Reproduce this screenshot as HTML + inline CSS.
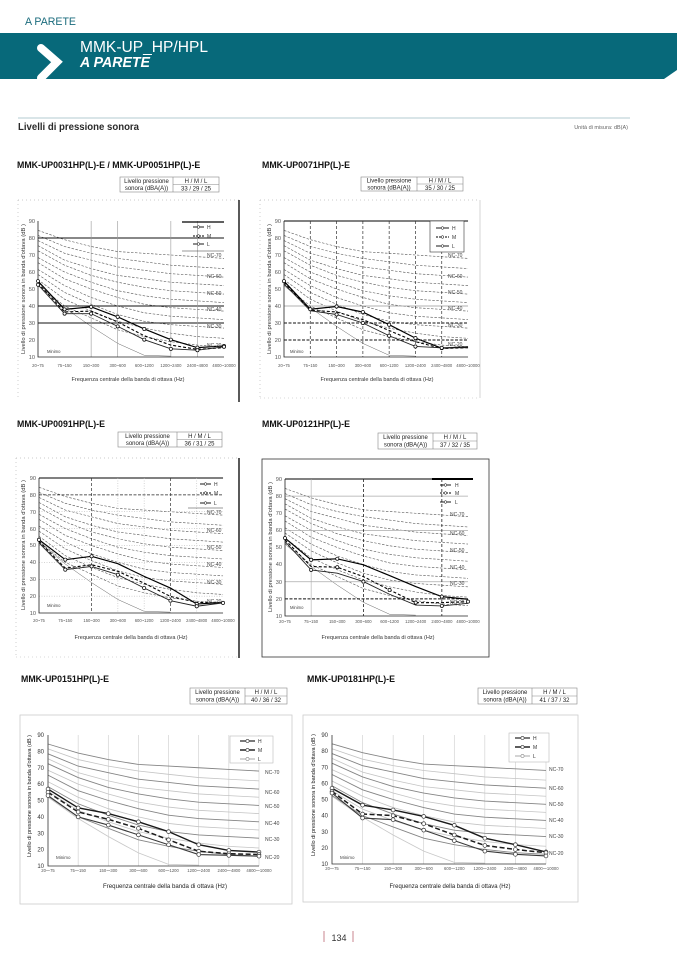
<!DOCTYPE html>
<html><head><meta charset="utf-8">
<style>
html,body{margin:0;padding:0;background:#fff}
svg{display:block}
text{font-family:"Liberation Sans",Arial,"Noto Sans CJK JP",sans-serif}
.p polyline,.p line,.p ellipse{vector-effect:non-scaling-stroke;fill:none}
.p ellipse{fill:#fff}
.xl{font-size:4.2px;fill:#555;text-anchor:middle}
.yl{font-size:5.6px;fill:#555;text-anchor:end}
.nc{font-size:5px;fill:#444}
.tb{font-size:6px;fill:#222;text-anchor:middle}
.ti{font-size:8.8px;font-weight:bold;fill:#111}
.lg{font-size:5px;fill:#333}
</style></head><body>
<svg width="677" height="958" viewBox="0 0 677 958" xmlns="http://www.w3.org/2000/svg">
<defs>
<g id="ncD">
<polyline vector-effect="non-scaling-stroke" fill="none" points="0,55 100,110 200,150 300,180 400,190 500,200 600,210 700,220"/>
<polyline vector-effect="non-scaling-stroke" fill="none" points="0,115 100,190 200,230 300,270 400,290 500,310 600,320 700,330"/>
<polyline vector-effect="non-scaling-stroke" fill="none" points="0,175 100,260 200,320 300,360 400,390 500,410 600,420 700,430"/>
<polyline vector-effect="non-scaling-stroke" fill="none" points="0,245 100,340 200,400 300,450 400,490 500,510 600,520 700,530"/>
<polyline vector-effect="non-scaling-stroke" fill="none" points="0,315 100,420 200,490 300,550 400,590 500,610 600,620 700,630"/>
<polyline vector-effect="non-scaling-stroke" fill="none" points="0,375 100,500 200,570 300,640 400,680 500,710 600,730 700,740"/>
</g>
<g id="ncL">
<polyline vector-effect="non-scaling-stroke" fill="none" points="0,85 100,150 200,190 300,220 400,240 500,260 600,270 700,280"/>
<polyline vector-effect="non-scaling-stroke" fill="none" points="0,145 100,230 200,280 300,320 400,340 500,360 600,370 700,380"/>
<polyline vector-effect="non-scaling-stroke" fill="none" points="0,215 100,300 200,360 300,410 400,440 500,460 600,470 700,480"/>
<polyline vector-effect="non-scaling-stroke" fill="none" points="0,285 100,380 200,450 300,500 400,540 500,560 600,570 700,580"/>
<polyline vector-effect="non-scaling-stroke" fill="none" points="0,345 100,460 200,530 300,590 400,630 500,660 600,680 700,690"/>
</g>
<polyline id="thr" vector-effect="non-scaling-stroke" fill="none" points="0,380 100,510 200,620 300,720 400,790 500,795"/>
<clipPath id="bandclip"><polygon points="0,33 677,33 677,70 664,79 0,79"/></clipPath>
</defs>

<!-- HEADER -->
<text x="25" y="25" font-size="11" fill="#1a6b7c" textLength="51" lengthAdjust="spacingAndGlyphs">A PARETE</text>
<polygon points="0,33 677,33 677,70 664,79 0,79" fill="#07697a"/>
<g clip-path="url(#bandclip)">
<polyline points="41,48 57,62 41,78" fill="none" stroke="#fff" stroke-width="8" stroke-linecap="round" stroke-linejoin="miter"/>
</g>
<text x="80" y="52" font-size="16" fill="#fff" textLength="128" lengthAdjust="spacingAndGlyphs">MMK-UP_HP/HPL</text>
<text x="80" y="67" font-size="15" font-weight="bold" font-style="italic" fill="#fff" textLength="70" lengthAdjust="spacingAndGlyphs">A PARETE</text>

<line x1="18" y1="118" x2="630" y2="118" stroke="#b3cbd2" stroke-width="1"/>
<text x="18" y="130" font-size="10" font-weight="bold" fill="#2a2a2a" textLength="121" lengthAdjust="spacingAndGlyphs">Livelli di pressione sonora</text>
<text x="628" y="129" font-size="5.5" fill="#666" text-anchor="end">Unità di misura: dB(A)</text>

<!-- ================= CHART 1 ================= -->
<text class="ti" x="17" y="168">MMK-UP0031HP(L)-E / MMK-UP0051HP(L)-E</text>
<rect x="120" y="177" width="99" height="15" fill="#fff" stroke="#888" stroke-width="0.6"/>
<line x1="173" y1="177" x2="173" y2="192" stroke="#888" stroke-width="0.6"/>
<line x1="173" y1="184.5" x2="219" y2="184.5" stroke="#888" stroke-width="0.6"/>
<text class="tb" x="146.5" y="183">Livello pressione</text>
<text class="tb" x="146.5" y="190">sonora (dBA(A))</text>
<text class="tb" x="196" y="183">H / M / L</text>
<text class="tb" x="196" y="190.5">33 / 29 / 25</text>
<line x1="18" y1="200" x2="18" y2="400" stroke="#bbb" stroke-width="0.7" stroke-dasharray="1,3"/>
<line x1="18" y1="200" x2="239" y2="200" stroke="#bbb" stroke-width="0.7" stroke-dasharray="1,3"/>
<line x1="239" y1="200" x2="239" y2="402" stroke="#000" stroke-width="1.3"/>
<g class="p" transform="translate(38,221) scale(0.2657,0.17)">
<use href="#ncD" stroke="#555" stroke-width="0.6" stroke-dasharray="2.5,1.5"/>
<use href="#ncL" stroke="#555" stroke-width="0.6" stroke-dasharray="2.5,1.5"/>
<use href="#thr" stroke="#666" stroke-width="0.5"/>
<line x1="0" y1="100" x2="700" y2="100" stroke="#111" stroke-width="0.9"/>
<line x1="0" y1="500" x2="700" y2="500" stroke="#111" stroke-width="0.9"/>
<line x1="0" y1="600" x2="700" y2="600" stroke="#111" stroke-width="0.9"/>
<line x1="200" y1="0" x2="200" y2="800" stroke="#999" stroke-width="0.6"/>
<line x1="300" y1="0" x2="300" y2="800" stroke="#999" stroke-width="0.6"/>
<line x1="500" y1="0" x2="500" y2="800" stroke="#999" stroke-width="0.6"/>
<line x1="600" y1="0" x2="600" y2="800" stroke="#999" stroke-width="0.6"/>
<polyline points="0,0 0,800 700,800" stroke="#222" stroke-width="0.8"/>
<polyline points="0,354 100,520 200,505 300,564 400,635 500,698 600,745 700,735" stroke="#000" stroke-width="1.2"/>
<polyline points="0,365 100,535 200,530 300,594 400,675 500,730 600,755 700,745" stroke="#000" stroke-width="1.1" stroke-dasharray="3,2"/>
<polyline points="0,375 100,545 200,545 300,620 400,698 500,752 600,760 700,740" stroke="#222" stroke-width="0.9"/>
<g stroke="#000" stroke-width="0.7">
<ellipse cx="0" cy="354" rx="6" ry="9.4"/><ellipse cx="100" cy="520" rx="6" ry="9.4"/><ellipse cx="200" cy="505" rx="6" ry="9.4"/><ellipse cx="300" cy="564" rx="6" ry="9.4"/><ellipse cx="400" cy="635" rx="6" ry="9.4"/><ellipse cx="500" cy="698" rx="6" ry="9.4"/><ellipse cx="600" cy="745" rx="6" ry="9.4"/><ellipse cx="700" cy="735" rx="6" ry="9.4"/>
<ellipse cx="0" cy="375" rx="6" ry="9.4"/><ellipse cx="100" cy="545" rx="6" ry="9.4"/><ellipse cx="200" cy="545" rx="6" ry="9.4"/><ellipse cx="300" cy="620" rx="6" ry="9.4"/><ellipse cx="400" cy="698" rx="6" ry="9.4"/><ellipse cx="500" cy="752" rx="6" ry="9.4"/><ellipse cx="600" cy="760" rx="6" ry="9.4"/><ellipse cx="700" cy="740" rx="6" ry="9.4"/>
</g>
</g>
<line x1="182" y1="222" x2="224" y2="222" stroke="#000" stroke-width="1.2"/>
<line x1="182" y1="251" x2="224" y2="251" stroke="#333" stroke-width="0.6"/>
<line x1="193" y1="227" x2="204" y2="227" stroke="#000" stroke-width="0.9"/><circle cx="198.5" cy="227" r="1.3" fill="#fff" stroke="#000" stroke-width="0.5"/><text class="lg" x="207" y="229">H</text>
<line x1="193" y1="236" x2="204" y2="236" stroke="#000" stroke-width="0.9" stroke-dasharray="2,1"/><circle cx="198.5" cy="236" r="1.3" fill="#fff" stroke="#000" stroke-width="0.5"/><text class="lg" x="207" y="238">M</text>
<line x1="193" y1="244" x2="204" y2="244" stroke="#000" stroke-width="0.9"/><circle cx="198.5" cy="244" r="1.3" fill="#fff" stroke="#000" stroke-width="0.5"/><text class="lg" x="207" y="246">L</text>
<text class="nc" x="207" y="257">NC-70</text><text class="nc" x="207" y="278">NC-60</text><text class="nc" x="207" y="295">NC-50</text><text class="nc" x="207" y="311">NC-40</text><text class="nc" x="207" y="328">NC-30</text><text class="nc" x="207" y="347">NC-20</text>
<text class="yl" x="35" y="223">90</text><text class="yl" x="35" y="240">80</text><text class="yl" x="35" y="257">70</text><text class="yl" x="35" y="274">60</text><text class="yl" x="35" y="291">50</text><text class="yl" x="35" y="308">40</text><text class="yl" x="35" y="325">30</text><text class="yl" x="35" y="342">20</text><text class="yl" x="35" y="359">10</text>
<text class="xl" x="38" y="367">20~75</text><text class="xl" x="64.6" y="367">75~150</text><text class="xl" x="91.1" y="367">150~300</text><text class="xl" x="117.7" y="367">300~600</text><text class="xl" x="144.3" y="367">600~1200</text><text class="xl" x="170.9" y="367">1200~2400</text><text class="xl" x="197.4" y="367">2400~4800</text><text class="xl" x="224" y="367">4800~10000</text>
<text x="128" y="381" font-size="5.8" fill="#333" text-anchor="middle" textLength="113" lengthAdjust="spacingAndGlyphs">Frequenza centrale della banda di ottava (Hz)</text>
<text transform="translate(25,289) rotate(-90)" font-size="5.6" fill="#333" text-anchor="middle" textLength="130" lengthAdjust="spacingAndGlyphs">Livello di pressione sonora in banda d'ottava (dB )</text>
<text x="47" y="353" font-size="4.2" fill="#444">Minimo</text>

<!-- ================= CHART 2 ================= -->
<text class="ti" x="262" y="168">MMK-UP0071HP(L)-E</text>
<rect x="361" y="177" width="102" height="14" fill="#fff" stroke="#888" stroke-width="0.6"/>
<line x1="417" y1="177" x2="417" y2="191" stroke="#888" stroke-width="0.6"/>
<line x1="417" y1="184" x2="463" y2="184" stroke="#888" stroke-width="0.6"/>
<text class="tb" x="389" y="182.5">Livello pressione</text>
<text class="tb" x="389" y="189.5">sonora (dBA(A))</text>
<text class="tb" x="440" y="182.5">H / M / L</text>
<text class="tb" x="440" y="189.8">35 / 30 / 25</text>
<line x1="260" y1="200" x2="260" y2="398" stroke="#bbb" stroke-width="0.7" stroke-dasharray="1,3"/>
<line x1="260" y1="200" x2="480" y2="200" stroke="#bbb" stroke-width="0.7" stroke-dasharray="1,3"/>
<line x1="480" y1="200" x2="480" y2="398" stroke="#ccc" stroke-width="0.8"/>
<line x1="260" y1="398" x2="480" y2="398" stroke="#ccc" stroke-width="0.7" stroke-dasharray="1,3"/>
<g class="p" transform="translate(284,221) scale(0.2629,0.17)">
<use href="#ncD" stroke="#555" stroke-width="0.6" stroke-dasharray="2.5,1.5"/>
<use href="#ncL" stroke="#555" stroke-width="0.6" stroke-dasharray="2.5,1.5"/>
<use href="#thr" stroke="#666" stroke-width="0.5"/>
<line x1="0" y1="0" x2="700" y2="0" stroke="#000" stroke-width="1.1"/>
<line x1="0" y1="500" x2="700" y2="500" stroke="#999" stroke-width="0.7"/>
<line x1="0" y1="600" x2="700" y2="600" stroke="#111" stroke-width="0.9" stroke-dasharray="3,1.5"/>
<line x1="0" y1="700" x2="700" y2="700" stroke="#111" stroke-width="0.9" stroke-dasharray="3,1.5"/>
<line x1="100" y1="0" x2="100" y2="800" stroke="#333" stroke-width="0.7" stroke-dasharray="3,2"/>
<line x1="200" y1="0" x2="200" y2="800" stroke="#333" stroke-width="0.7" stroke-dasharray="3,2"/>
<line x1="300" y1="0" x2="300" y2="800" stroke="#333" stroke-width="0.7" stroke-dasharray="3,2"/>
<line x1="400" y1="0" x2="400" y2="800" stroke="#333" stroke-width="0.7" stroke-dasharray="3,2"/>
<line x1="500" y1="0" x2="500" y2="800" stroke="#333" stroke-width="0.7" stroke-dasharray="3,2"/>
<line x1="600" y1="0" x2="600" y2="800" stroke="#333" stroke-width="0.7" stroke-dasharray="3,2"/>
<polyline points="0,0 0,800 700,800" stroke="#222" stroke-width="0.8"/>
<polyline points="0,354 100,519 200,503 300,536 400,610 500,689 600,748 700,740" stroke="#000" stroke-width="1.2"/>
<polyline points="0,360 100,525 200,535 300,580 400,644 500,710 600,750 700,745" stroke="#000" stroke-width="1.1" stroke-dasharray="3,2"/>
<polyline points="0,370 100,528 200,550 300,600 400,675 500,738 600,746 700,745" stroke="#222" stroke-width="0.9"/>
<g stroke="#000" stroke-width="0.7">
<ellipse cx="0" cy="354" rx="6.1" ry="9.4"/><ellipse cx="100" cy="519" rx="6.1" ry="9.4"/><ellipse cx="200" cy="503" rx="6.1" ry="9.4"/><ellipse cx="300" cy="536" rx="6.1" ry="9.4"/><ellipse cx="400" cy="610" rx="6.1" ry="9.4"/><ellipse cx="500" cy="689" rx="6.1" ry="9.4"/><ellipse cx="600" cy="748" rx="6.1" ry="9.4"/>
<ellipse cx="200" cy="550" rx="6.1" ry="9.4"/><ellipse cx="300" cy="600" rx="6.1" ry="9.4"/><ellipse cx="400" cy="675" rx="6.1" ry="9.4"/><ellipse cx="500" cy="738" rx="6.1" ry="9.4"/><ellipse cx="600" cy="746" rx="6.1" ry="9.4"/>
</g>
</g>
<rect x="430" y="221" width="34" height="31" fill="#fff" stroke="#333" stroke-width="0.6"/>
<line x1="436" y1="228" x2="449" y2="228" stroke="#000" stroke-width="0.9"/><circle cx="442.5" cy="228" r="1.3" fill="#fff" stroke="#000" stroke-width="0.5"/><text class="lg" x="452" y="230">H</text>
<line x1="436" y1="237" x2="449" y2="237" stroke="#000" stroke-width="0.9" stroke-dasharray="2,1"/><circle cx="442.5" cy="237" r="1.3" fill="#fff" stroke="#000" stroke-width="0.5"/><text class="lg" x="452" y="239">M</text>
<line x1="436" y1="246" x2="449" y2="246" stroke="#000" stroke-width="0.9"/><circle cx="442.5" cy="246" r="1.3" fill="#fff" stroke="#000" stroke-width="0.5"/><text class="lg" x="452" y="248">L</text>
<text class="nc" x="448" y="257">NC-70</text><text class="nc" x="448" y="278">NC-60</text><text class="nc" x="448" y="294">NC-50</text><text class="nc" x="448" y="310">NC-40</text><text class="nc" x="448" y="327">NC-30</text><text class="nc" x="448" y="346">NC-20</text>
<text class="yl" x="281" y="223">90</text><text class="yl" x="281" y="240">80</text><text class="yl" x="281" y="257">70</text><text class="yl" x="281" y="274">60</text><text class="yl" x="281" y="291">50</text><text class="yl" x="281" y="308">40</text><text class="yl" x="281" y="325">30</text><text class="yl" x="281" y="342">20</text><text class="yl" x="281" y="359">10</text>
<text class="xl" x="284" y="367">20~75</text><text class="xl" x="310.3" y="367">75~150</text><text class="xl" x="336.6" y="367">150~300</text><text class="xl" x="362.9" y="367">300~600</text><text class="xl" x="389.1" y="367">600~1200</text><text class="xl" x="415.4" y="367">1200~2400</text><text class="xl" x="441.7" y="367">2400~4800</text><text class="xl" x="468" y="367">4800~10000</text>
<text x="377" y="381" font-size="5.8" fill="#333" text-anchor="middle" textLength="113" lengthAdjust="spacingAndGlyphs">Frequenza centrale della banda di ottava (Hz)</text>
<text transform="translate(271,289) rotate(-90)" font-size="5.6" fill="#333" text-anchor="middle" textLength="130" lengthAdjust="spacingAndGlyphs">Livello di pressione sonora in banda d'ottava (dB )</text>
<text x="290" y="353" font-size="4.2" fill="#444">Minimo</text>

<!-- ================= CHART 3 ================= -->
<text class="ti" x="17" y="427">MMK-UP0091HP(L)-E</text>
<rect x="118" y="432" width="104" height="15" fill="#fff" stroke="#888" stroke-width="0.6"/>
<line x1="177" y1="432" x2="177" y2="447" stroke="#888" stroke-width="0.6"/>
<line x1="177" y1="439.5" x2="222" y2="439.5" stroke="#888" stroke-width="0.6"/>
<text class="tb" x="147.5" y="438">Livello pressione</text>
<text class="tb" x="147.5" y="445">sonora (dBA(A))</text>
<text class="tb" x="199.5" y="438">H / M / L</text>
<text class="tb" x="199.5" y="445.5">36 / 31 / 25</text>
<line x1="16" y1="458" x2="16" y2="657" stroke="#bbb" stroke-width="0.7" stroke-dasharray="1,3"/>
<line x1="16" y1="458" x2="239" y2="458" stroke="#bbb" stroke-width="0.7" stroke-dasharray="1,3"/>
<line x1="16" y1="657" x2="239" y2="657" stroke="#ccc" stroke-width="0.7" stroke-dasharray="1,3"/>
<line x1="239" y1="458" x2="239" y2="658" stroke="#000" stroke-width="1.3"/>
<g class="p" transform="translate(39,478) scale(0.2629,0.16875)">
<use href="#ncD" stroke="#555" stroke-width="0.6" stroke-dasharray="2.5,1.5"/>
<use href="#ncL" stroke="#555" stroke-width="0.6" stroke-dasharray="2.5,1.5"/>
<use href="#thr" stroke="#666" stroke-width="0.5"/>
<line x1="0" y1="0" x2="700" y2="0" stroke="#000" stroke-width="1.1"/>
<line x1="0" y1="100" x2="700" y2="100" stroke="#222" stroke-width="0.8" stroke-dasharray="3,1.5"/>
<line x1="0" y1="200" x2="700" y2="200" stroke="#aaa" stroke-width="0.6" stroke-dasharray="1,1.5"/>
<line x1="0" y1="300" x2="700" y2="300" stroke="#aaa" stroke-width="0.6" stroke-dasharray="1,1.5"/>
<line x1="0" y1="400" x2="700" y2="400" stroke="#aaa" stroke-width="0.6" stroke-dasharray="1,1.5"/>
<line x1="0" y1="500" x2="700" y2="500" stroke="#aaa" stroke-width="0.6" stroke-dasharray="1,1.5"/>
<line x1="0" y1="600" x2="700" y2="600" stroke="#aaa" stroke-width="0.6" stroke-dasharray="1,1.5"/>
<line x1="0" y1="700" x2="700" y2="700" stroke="#aaa" stroke-width="0.6" stroke-dasharray="1,1.5"/>
<line x1="200" y1="0" x2="200" y2="800" stroke="#333" stroke-width="0.7" stroke-dasharray="3,2"/>
<line x1="500" y1="0" x2="500" y2="800" stroke="#333" stroke-width="0.7" stroke-dasharray="3,2"/>
<line x1="300" y1="0" x2="300" y2="800" stroke="#bbb" stroke-width="0.6" stroke-dasharray="1,1.5"/>
<line x1="400" y1="0" x2="400" y2="800" stroke="#bbb" stroke-width="0.6" stroke-dasharray="1,1.5"/>
<line x1="600" y1="0" x2="600" y2="800" stroke="#bbb" stroke-width="0.6" stroke-dasharray="1,1.5"/>
<polyline points="0,0 0,800 700,800" stroke="#222" stroke-width="0.8"/>
<polyline points="0,366 100,484 200,464 300,508 400,583 500,652 600,747 700,737" stroke="#000" stroke-width="1.2"/>
<polyline points="0,375 100,534 200,514 300,553 400,623 500,702 600,737 700,741" stroke="#000" stroke-width="1.1" stroke-dasharray="3,2"/>
<polyline points="0,385 100,543 200,524 300,573 400,652 500,727 600,760 700,740" stroke="#222" stroke-width="0.9"/>
<g stroke="#000" stroke-width="0.7">
<ellipse cx="0" cy="366" rx="6.1" ry="9.5"/><ellipse cx="100" cy="484" rx="6.1" ry="9.5"/><ellipse cx="200" cy="464" rx="6.1" ry="9.5"/><ellipse cx="600" cy="747" rx="6.1" ry="9.5"/>
<ellipse cx="100" cy="543" rx="6.1" ry="9.5"/><ellipse cx="200" cy="524" rx="6.1" ry="9.5"/><ellipse cx="300" cy="573" rx="6.1" ry="9.5"/><ellipse cx="400" cy="652" rx="6.1" ry="9.5"/><ellipse cx="500" cy="727" rx="6.1" ry="9.5"/><ellipse cx="600" cy="760" rx="6.1" ry="9.5"/><ellipse cx="700" cy="740" rx="6.1" ry="9.5"/>
</g>
</g>
<line x1="188" y1="508" x2="223" y2="508" stroke="#333" stroke-width="0.6"/>
<line x1="200" y1="484" x2="211" y2="484" stroke="#000" stroke-width="0.9"/><circle cx="205.5" cy="484" r="1.3" fill="#fff" stroke="#000" stroke-width="0.5"/><text class="lg" x="214" y="486">H</text>
<line x1="200" y1="493" x2="211" y2="493" stroke="#000" stroke-width="0.9" stroke-dasharray="2,1"/><circle cx="205.5" cy="493" r="1.3" fill="#fff" stroke="#000" stroke-width="0.5"/><text class="lg" x="214" y="495">M</text>
<line x1="200" y1="503" x2="211" y2="503" stroke="#000" stroke-width="0.9"/><circle cx="205.5" cy="503" r="1.3" fill="#fff" stroke="#000" stroke-width="0.5"/><text class="lg" x="214" y="505">L</text>
<text class="nc" x="207" y="514">NC-70</text><text class="nc" x="207" y="532">NC-60</text><text class="nc" x="207" y="549">NC-50</text><text class="nc" x="207" y="566">NC-40</text><text class="nc" x="207" y="584">NC-30</text><text class="nc" x="207" y="603">NC-20</text>
<text class="yl" x="36" y="480">90</text><text class="yl" x="36" y="497">80</text><text class="yl" x="36" y="514">70</text><text class="yl" x="36" y="531">60</text><text class="yl" x="36" y="547">50</text><text class="yl" x="36" y="564">40</text><text class="yl" x="36" y="581">30</text><text class="yl" x="36" y="598">20</text><text class="yl" x="36" y="615">10</text>
<text class="xl" x="39" y="622">20~75</text><text class="xl" x="65.3" y="622">75~150</text><text class="xl" x="91.6" y="622">150~300</text><text class="xl" x="117.9" y="622">300~600</text><text class="xl" x="144.1" y="622">600~1200</text><text class="xl" x="170.4" y="622">1200~2400</text><text class="xl" x="196.7" y="622">2400~4800</text><text class="xl" x="223" y="622">4800~10000</text>
<text x="131" y="639" font-size="5.8" fill="#333" text-anchor="middle" textLength="113" lengthAdjust="spacingAndGlyphs">Frequenza centrale della banda di ottava (Hz)</text>
<text transform="translate(25,545) rotate(-90)" font-size="5.6" fill="#333" text-anchor="middle" textLength="130" lengthAdjust="spacingAndGlyphs">Livello di pressione sonora in banda d'ottava (dB )</text>
<text x="47" y="607" font-size="4.2" fill="#444">Minimo</text>

<!-- ================= CHART 4 ================= -->
<text class="ti" x="262" y="427">MMK-UP0121HP(L)-E</text>
<rect x="378" y="433" width="99" height="16" fill="#fff" stroke="#888" stroke-width="0.6"/>
<line x1="433" y1="433" x2="433" y2="449" stroke="#888" stroke-width="0.6"/>
<line x1="433" y1="441" x2="477" y2="441" stroke="#888" stroke-width="0.6"/>
<text class="tb" x="405.5" y="439">Livello pressione</text>
<text class="tb" x="405.5" y="446.5">sonora (dBA(A))</text>
<text class="tb" x="455" y="439">H / M / L</text>
<text class="tb" x="455" y="447">37 / 32 / 35</text>
<rect x="262" y="459" width="227" height="198" fill="none" stroke="#333" stroke-width="0.8"/>
<g class="p" transform="translate(285,479) scale(0.2614,0.17125)">
<use href="#ncD" stroke="#555" stroke-width="0.6" stroke-dasharray="2.5,1.5"/>
<use href="#ncL" stroke="#555" stroke-width="0.6" stroke-dasharray="2.5,1.5"/>
<use href="#thr" stroke="#666" stroke-width="0.5"/>
<line x1="0" y1="0" x2="700" y2="0" stroke="#000" stroke-width="1.1"/>
<line x1="0" y1="100" x2="700" y2="100" stroke="#aaa" stroke-width="0.7"/>
<line x1="0" y1="300" x2="700" y2="300" stroke="#aaa" stroke-width="0.7"/>
<line x1="0" y1="600" x2="700" y2="600" stroke="#aaa" stroke-width="0.7"/>
<line x1="0" y1="700" x2="700" y2="700" stroke="#111" stroke-width="0.9" stroke-dasharray="3,1.5"/>
<line x1="100" y1="0" x2="100" y2="800" stroke="#aaa" stroke-width="0.6"/>
<line x1="300" y1="0" x2="300" y2="800" stroke="#222" stroke-width="0.8" stroke-dasharray="3,2"/>
<line x1="600" y1="0" x2="600" y2="800" stroke="#222" stroke-width="0.8" stroke-dasharray="3,2"/>
<polyline points="0,0 0,800 700,800" stroke="#222" stroke-width="0.8"/>
<polyline points="0,345 100,472 200,466 300,501 400,564 500,628 600,687 700,702" stroke="#000" stroke-width="1.2"/>
<polyline points="0,355 100,511 200,515 300,570 400,648 500,722 600,722 700,716" stroke="#000" stroke-width="1.1" stroke-dasharray="3,2"/>
<polyline points="0,365 100,531 200,550 300,599 400,673 500,736 600,741 700,726" stroke="#222" stroke-width="0.9"/>
<g stroke="#000" stroke-width="0.7">
<ellipse cx="0" cy="345" rx="6.1" ry="9.3"/><ellipse cx="100" cy="472" rx="6.1" ry="9.3"/><ellipse cx="200" cy="466" rx="6.1" ry="9.3"/><ellipse cx="600" cy="687" rx="6.1" ry="9.3"/>
<ellipse cx="100" cy="531" rx="6.1" ry="9.3"/><ellipse cx="200" cy="515" rx="6.1" ry="9.3"/><ellipse cx="300" cy="599" rx="6.1" ry="9.3"/><ellipse cx="400" cy="648" rx="6.1" ry="9.3"/><ellipse cx="500" cy="722" rx="6.1" ry="9.3"/><ellipse cx="600" cy="741" rx="6.1" ry="9.3"/><ellipse cx="700" cy="716" rx="6.1" ry="9.3"/>
</g>
</g>
<line x1="432" y1="479" x2="473" y2="479" stroke="#000" stroke-width="2"/>
<line x1="440" y1="485" x2="451" y2="485" stroke="#000" stroke-width="0.9"/><circle cx="445.5" cy="485" r="1.3" fill="#fff" stroke="#000" stroke-width="0.5"/><text class="lg" x="455" y="487">H</text>
<line x1="440" y1="493" x2="451" y2="493" stroke="#000" stroke-width="0.9" stroke-dasharray="2,1"/><circle cx="445.5" cy="493" r="1.3" fill="#fff" stroke="#000" stroke-width="0.5"/><text class="lg" x="455" y="495">M</text>
<line x1="440" y1="502" x2="451" y2="502" stroke="#000" stroke-width="0.9"/><circle cx="445.5" cy="502" r="1.3" fill="#fff" stroke="#000" stroke-width="0.5"/><text class="lg" x="455" y="504">L</text>
<text class="nc" x="450" y="516">NC-70</text><text class="nc" x="450" y="535">NC-60</text><text class="nc" x="450" y="552">NC-50</text><text class="nc" x="450" y="569">NC-40</text><text class="nc" x="450" y="585">NC-30</text><text class="nc" x="450" y="604">NC-20</text>
<text class="yl" x="282" y="481">90</text><text class="yl" x="282" y="498">80</text><text class="yl" x="282" y="515">70</text><text class="yl" x="282" y="532">60</text><text class="yl" x="282" y="549">50</text><text class="yl" x="282" y="566">40</text><text class="yl" x="282" y="584">30</text><text class="yl" x="282" y="601">20</text><text class="yl" x="282" y="618">10</text>
<text class="xl" x="285" y="623">20~75</text><text class="xl" x="311.1" y="623">75~150</text><text class="xl" x="337.3" y="623">150~300</text><text class="xl" x="363.4" y="623">300~600</text><text class="xl" x="389.6" y="623">600~1200</text><text class="xl" x="415.7" y="623">1200~2400</text><text class="xl" x="441.9" y="623">2400~4800</text><text class="xl" x="468" y="623">4800~10000</text>
<text x="378" y="639" font-size="5.8" fill="#333" text-anchor="middle" textLength="113" lengthAdjust="spacingAndGlyphs">Frequenza centrale della banda di ottava (Hz)</text>
<text transform="translate(272,547) rotate(-90)" font-size="5.6" fill="#333" text-anchor="middle" textLength="130" lengthAdjust="spacingAndGlyphs">Livello di pressione sonora in banda d'ottava (dB )</text>
<text x="290" y="609" font-size="4.2" fill="#444">Minimo</text>

<!-- ================= CHART 6 ================= -->
<text class="ti" x="21" y="682">MMK-UP0151HP(L)-E</text>
<rect x="190" y="688" width="97" height="16" fill="#fff" stroke="#888" stroke-width="0.6"/>
<line x1="245" y1="688" x2="245" y2="704" stroke="#888" stroke-width="0.6"/>
<line x1="245" y1="696" x2="287" y2="696" stroke="#888" stroke-width="0.6"/>
<text class="tb" x="217.5" y="694">Livello pressione</text>
<text class="tb" x="217.5" y="701.5">sonora (dBA(A))</text>
<text class="tb" x="266" y="694">H / M / L</text>
<text class="tb" x="266" y="702">40 / 36 / 32</text>
<rect x="20" y="715" width="272" height="189" fill="none" stroke="#ccc" stroke-width="0.8"/>
<g class="p" transform="translate(48,735) scale(0.30143,0.16375)">
<line x1="100" y1="0" x2="100" y2="800" stroke="#ccc" stroke-width="0.6"/>
<line x1="200" y1="0" x2="200" y2="800" stroke="#ccc" stroke-width="0.6"/>
<line x1="300" y1="0" x2="300" y2="800" stroke="#ccc" stroke-width="0.6"/>
<line x1="400" y1="0" x2="400" y2="800" stroke="#ccc" stroke-width="0.6"/>
<line x1="500" y1="0" x2="500" y2="800" stroke="#ccc" stroke-width="0.6"/>
<line x1="600" y1="0" x2="600" y2="800" stroke="#ccc" stroke-width="0.6"/>
<line x1="700" y1="0" x2="700" y2="800" stroke="#ccc" stroke-width="0.6"/>
<use href="#ncL" stroke="#c4c4c4" stroke-width="0.8"/>
<use href="#ncD" stroke="#858585" stroke-width="0.9"/>
<use href="#thr" stroke="#c8c8c8" stroke-width="0.8"/>
<polyline points="0,0 0,800 700,800" stroke="#333" stroke-width="0.8"/>
<polyline points="0,370 100,500 200,550 300,610 400,670 500,730 600,735 700,740" stroke="#3a3a3a" stroke-width="1.1"/>
<polyline points="0,350 100,470 200,515 300,570 400,640 500,710 600,725 700,730" stroke="#1a1a1a" stroke-width="1.5" stroke-dasharray="5,2.5"/>
<polyline points="0,330 100,445 200,480 300,530 400,590 500,670 600,705 700,715" stroke="#1a1a1a" stroke-width="1.4"/>
<g stroke="#333" stroke-width="0.7">
<ellipse cx="0" cy="330" rx="6.3" ry="11.6"/><ellipse cx="100" cy="445" rx="6.3" ry="11.6"/><ellipse cx="200" cy="480" rx="6.3" ry="11.6"/><ellipse cx="300" cy="530" rx="6.3" ry="11.6"/><ellipse cx="400" cy="590" rx="6.3" ry="11.6"/><ellipse cx="500" cy="670" rx="6.3" ry="11.6"/><ellipse cx="600" cy="705" rx="6.3" ry="11.6"/><ellipse cx="700" cy="715" rx="6.3" ry="11.6"/>
<ellipse cx="0" cy="350" rx="6.3" ry="11.6"/><ellipse cx="100" cy="470" rx="6.3" ry="11.6"/><ellipse cx="200" cy="515" rx="6.3" ry="11.6"/><ellipse cx="300" cy="570" rx="6.3" ry="11.6"/><ellipse cx="400" cy="640" rx="6.3" ry="11.6"/><ellipse cx="500" cy="710" rx="6.3" ry="11.6"/><ellipse cx="600" cy="725" rx="6.3" ry="11.6"/><ellipse cx="700" cy="730" rx="6.3" ry="11.6"/>
<ellipse cx="0" cy="370" rx="6.3" ry="11.6"/><ellipse cx="100" cy="500" rx="6.3" ry="11.6"/><ellipse cx="200" cy="550" rx="6.3" ry="11.6"/><ellipse cx="300" cy="610" rx="6.3" ry="11.6"/><ellipse cx="400" cy="670" rx="6.3" ry="11.6"/><ellipse cx="500" cy="730" rx="6.3" ry="11.6"/><ellipse cx="600" cy="735" rx="6.3" ry="11.6"/><ellipse cx="700" cy="740" rx="6.3" ry="11.6"/>
</g>
</g>
<rect x="230" y="736" width="43" height="27" fill="#fff" stroke="#bbb" stroke-width="0.6"/>
<line x1="240" y1="741" x2="255" y2="741" stroke="#222" stroke-width="1.2"/><circle cx="247.5" cy="741" r="1.6" fill="#fff" stroke="#333" stroke-width="0.6"/><text class="lg" x="258" y="743">H</text>
<line x1="240" y1="750" x2="255" y2="750" stroke="#333" stroke-width="1.6"/><circle cx="247.5" cy="750" r="1.6" fill="#fff" stroke="#333" stroke-width="0.6"/><text class="lg" x="258" y="752">M</text>
<line x1="240" y1="759" x2="255" y2="759" stroke="#aaa" stroke-width="1"/><circle cx="247.5" cy="759" r="1.6" fill="#fff" stroke="#888" stroke-width="0.6"/><text class="lg" x="258" y="761">L</text>
<text class="nc" x="265" y="774">NC-70</text><text class="nc" x="265" y="794">NC-60</text><text class="nc" x="265" y="808">NC-50</text><text class="nc" x="265" y="825">NC-40</text><text class="nc" x="265" y="841">NC-30</text><text class="nc" x="265" y="859">NC-20</text>
<g font-size="6" fill="#333" text-anchor="end">
<text x="44" y="737">90</text><text x="44" y="753.5">80</text><text x="44" y="770">70</text><text x="44" y="786">60</text><text x="44" y="802.5">50</text><text x="44" y="819">40</text><text x="44" y="835.5">30</text><text x="44" y="851.5">20</text><text x="44" y="868">10</text>
</g>
<text class="xl" x="48" y="872">20～75</text><text class="xl" x="78.1" y="872">75～150</text><text class="xl" x="108.3" y="872">150～300</text><text class="xl" x="138.4" y="872">300～600</text><text class="xl" x="168.6" y="872">600～1200</text><text class="xl" x="198.7" y="872">1200～2400</text><text class="xl" x="228.9" y="872">2400～4800</text><text class="xl" x="259" y="872">4800～10000</text>
<text x="165" y="888" font-size="6.2" fill="#222" text-anchor="middle" textLength="124" lengthAdjust="spacingAndGlyphs">Frequenza centrale della banda di ottava (Hz)</text>
<text transform="translate(31,796) rotate(-90)" font-size="5.8" fill="#222" text-anchor="middle" textLength="122" lengthAdjust="spacingAndGlyphs">Livello di pressione sonora in banda d'ottava (dB )</text>
<text x="56" y="859" font-size="4.5" fill="#444">Minimo</text>

<!-- ================= CHART 7 ================= -->
<text class="ti" x="307" y="682">MMK-UP0181HP(L)-E</text>
<rect x="478" y="688" width="99" height="16" fill="#fff" stroke="#888" stroke-width="0.6"/>
<line x1="532" y1="688" x2="532" y2="704" stroke="#888" stroke-width="0.6"/>
<line x1="532" y1="696" x2="577" y2="696" stroke="#888" stroke-width="0.6"/>
<text class="tb" x="505" y="694">Livello pressione</text>
<text class="tb" x="505" y="701.5">sonora (dBA(A))</text>
<text class="tb" x="554.5" y="694">H / M / L</text>
<text class="tb" x="554.5" y="702">41 / 37 / 32</text>
<rect x="303" y="715" width="275" height="187" fill="none" stroke="#ccc" stroke-width="0.8"/>
<g class="p" transform="translate(332,735) scale(0.3057,0.16125)">
<line x1="100" y1="0" x2="100" y2="800" stroke="#ccc" stroke-width="0.6"/>
<line x1="200" y1="0" x2="200" y2="800" stroke="#ccc" stroke-width="0.6"/>
<line x1="300" y1="0" x2="300" y2="800" stroke="#ccc" stroke-width="0.6"/>
<line x1="400" y1="0" x2="400" y2="800" stroke="#ccc" stroke-width="0.6"/>
<line x1="500" y1="0" x2="500" y2="800" stroke="#ccc" stroke-width="0.6"/>
<line x1="600" y1="0" x2="600" y2="800" stroke="#ccc" stroke-width="0.6"/>
<line x1="700" y1="0" x2="700" y2="800" stroke="#ccc" stroke-width="0.6"/>
<use href="#ncL" stroke="#c4c4c4" stroke-width="0.8"/>
<use href="#ncD" stroke="#858585" stroke-width="0.9"/>
<use href="#thr" stroke="#c8c8c8" stroke-width="0.8"/>
<polyline points="0,0 0,800 700,800" stroke="#333" stroke-width="0.8"/>
<polyline points="0,360 100,515 200,525 300,590 400,655 500,720 600,740 700,750" stroke="#3a3a3a" stroke-width="1.1"/>
<polyline points="0,350 100,490 200,500 300,550 400,620 500,685 600,710 700,730" stroke="#1a1a1a" stroke-width="1.5" stroke-dasharray="5,2.5"/>
<polyline points="0,330 100,435 200,465 300,505 400,560 500,640 600,680 700,725" stroke="#1a1a1a" stroke-width="1.4"/>
<g stroke="#333" stroke-width="0.7">
<ellipse cx="0" cy="330" rx="6.2" ry="11.8"/><ellipse cx="100" cy="435" rx="6.2" ry="11.8"/><ellipse cx="200" cy="465" rx="6.2" ry="11.8"/><ellipse cx="300" cy="505" rx="6.2" ry="11.8"/><ellipse cx="400" cy="560" rx="6.2" ry="11.8"/><ellipse cx="500" cy="640" rx="6.2" ry="11.8"/><ellipse cx="600" cy="680" rx="6.2" ry="11.8"/><ellipse cx="700" cy="725" rx="6.2" ry="11.8"/>
<ellipse cx="0" cy="350" rx="6.2" ry="11.8"/><ellipse cx="100" cy="490" rx="6.2" ry="11.8"/><ellipse cx="200" cy="500" rx="6.2" ry="11.8"/><ellipse cx="300" cy="550" rx="6.2" ry="11.8"/><ellipse cx="400" cy="620" rx="6.2" ry="11.8"/><ellipse cx="500" cy="685" rx="6.2" ry="11.8"/><ellipse cx="600" cy="710" rx="6.2" ry="11.8"/><ellipse cx="700" cy="730" rx="6.2" ry="11.8"/>
<ellipse cx="0" cy="360" rx="6.2" ry="11.8"/><ellipse cx="100" cy="515" rx="6.2" ry="11.8"/><ellipse cx="200" cy="525" rx="6.2" ry="11.8"/><ellipse cx="300" cy="590" rx="6.2" ry="11.8"/><ellipse cx="400" cy="655" rx="6.2" ry="11.8"/><ellipse cx="500" cy="720" rx="6.2" ry="11.8"/><ellipse cx="600" cy="740" rx="6.2" ry="11.8"/><ellipse cx="700" cy="750" rx="6.2" ry="11.8"/>
</g>
</g>
<rect x="509" y="733" width="40" height="29" fill="#fff" stroke="#bbb" stroke-width="0.6"/>
<line x1="515" y1="738" x2="530" y2="738" stroke="#222" stroke-width="1.2"/><circle cx="522.5" cy="738" r="1.6" fill="#fff" stroke="#333" stroke-width="0.6"/><text class="lg" x="533" y="740">H</text>
<line x1="515" y1="747" x2="530" y2="747" stroke="#333" stroke-width="1.6"/><circle cx="522.5" cy="747" r="1.6" fill="#fff" stroke="#333" stroke-width="0.6"/><text class="lg" x="533" y="749">M</text>
<line x1="515" y1="756" x2="530" y2="756" stroke="#aaa" stroke-width="1"/><circle cx="522.5" cy="756" r="1.6" fill="#fff" stroke="#888" stroke-width="0.6"/><text class="lg" x="533" y="758">L</text>
<text class="nc" x="549" y="771">NC-70</text><text class="nc" x="549" y="790">NC-60</text><text class="nc" x="549" y="806">NC-50</text><text class="nc" x="549" y="822">NC-40</text><text class="nc" x="549" y="838">NC-30</text><text class="nc" x="549" y="855">NC-20</text>
<g font-size="6" fill="#333" text-anchor="end">
<text x="328" y="737">90</text><text x="328" y="753">80</text><text x="328" y="769.5">70</text><text x="328" y="785.5">60</text><text x="328" y="801.5">50</text><text x="328" y="817.5">40</text><text x="328" y="834">30</text><text x="328" y="850">20</text><text x="328" y="866">10</text>
</g>
<text class="xl" x="332" y="870">20～75</text><text class="xl" x="362.6" y="870">75～150</text><text class="xl" x="393.1" y="870">150～300</text><text class="xl" x="423.7" y="870">300～600</text><text class="xl" x="454.3" y="870">600～1200</text><text class="xl" x="484.9" y="870">1200～2400</text><text class="xl" x="515.4" y="870">2400～4800</text><text class="xl" x="546" y="870">4800～10000</text>
<text x="450" y="888" font-size="6.2" fill="#222" text-anchor="middle" textLength="121" lengthAdjust="spacingAndGlyphs">Frequenza centrale della banda di ottava (Hz)</text>
<text transform="translate(315,795) rotate(-90)" font-size="5.8" fill="#222" text-anchor="middle" textLength="122" lengthAdjust="spacingAndGlyphs">Livello di pressione sonora in banda d'ottava (dB )</text>
<text x="340" y="859" font-size="4.5" fill="#444">Minimo</text>

<!-- PAGE NUMBER -->
<line x1="324" y1="931" x2="324" y2="942" stroke="#c9848f" stroke-width="1"/>
<line x1="353" y1="931" x2="353" y2="942" stroke="#c9848f" stroke-width="1"/>
<text x="339" y="941" font-size="9" fill="#333" text-anchor="middle">134</text>
</svg>
</body></html>
